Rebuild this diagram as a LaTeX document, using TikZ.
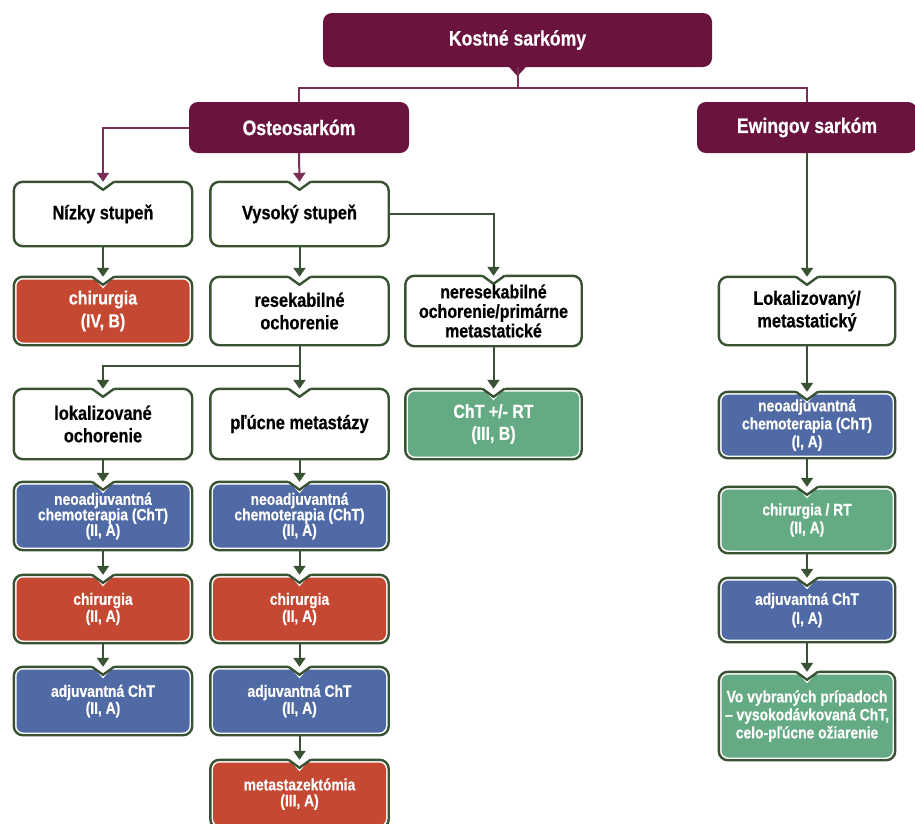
\documentclass[tikz,border=0pt]{standalone}
\usepackage{fontspec}
\setmainfont{Liberation Sans}[FakeStretch=0.84, BoldFeatures={FakeBold=0.5}]
\usetikzlibrary{arrows.meta,backgrounds,calc}
\definecolor{maroon}{HTML}{69133E}
\definecolor{mline}{HTML}{7A2E55}
\definecolor{bred}{HTML}{C44832}
\definecolor{bblue}{HTML}{506AA6}
\definecolor{bgreen}{HTML}{64AA82}
\definecolor{border}{HTML}{3A5234}
\newcommand{\nbox}[2]{%
  \filldraw[fill=white, draw=border, line width=2.4pt, rounded corners=9pt] (#1.north west) rectangle (#1.south east);
  \fill[#2, rounded corners=7pt] ([shift={(2.7,2.7)}]#1.north west) rectangle ([shift={(-2.7,-2.7)}]#1.south east);
  \fill[white] ([shift={(-13,-3)}]#1.north) -- ([shift={(0,11.5)}]#1.north) -- ([shift={(13,-3)}]#1.north) -- cycle;
  \draw[border, line width=2.4pt, line join=round] ([shift={(-11,0)}]#1.north) -- ([shift={(0,8)}]#1.north) -- ([shift={(11,0)}]#1.north);
}
\tikzset{
  wtxt/.style={inner sep=0pt, minimum width=178pt, align=center, text=black,
    font=\fontsize{19.5}{22.5}\selectfont\bfseries},
  ctxt/.style={inner sep=0pt, minimum width=178pt, align=center, text=white,
    font=\fontsize{16.5}{16.5}\selectfont\bfseries},
  hdr/.style={fill=maroon, rounded corners=9pt, text=white, inner sep=0pt,
    font=\fontsize{21}{24}\selectfont\bfseries},
  gline/.style={draw=border, line width=2pt},
  garrow/.style={draw=border, line width=2pt, -{Triangle[width=12pt,length=9pt]}},
  mlinest/.style={draw=mline, line width=2pt},
  marrow/.style={draw=mline, line width=2pt, -{Triangle[width=12pt,length=9pt]}},
}
\begin{document}
\begin{tikzpicture}[x=1pt,y=-1pt]
\useasboundingbox (0,0) rectangle (915,823);
% headers
\node[hdr, minimum width=389pt, minimum height=54pt] (ks) at (517.5,40) {Kostné sarkómy};
\node[hdr, minimum width=220pt, minimum height=51pt] (os) at (299,127.5) {Osteosarkóm};
\node[hdr, minimum width=220pt, minimum height=51pt] (ew) at (807,127.5) {Ewingov sarkóm};
% column 1
\node[wtxt, minimum height=64pt] (nizky) at (103,214) {Nízky stupeň};
\node[wtxt, minimum height=68pt, font=\fontsize{19}{23}\selectfont\bfseries, text=white] (chir1) at (103,311) {chirurgia\\(IV, B)};
\node[wtxt, minimum height=70pt] (lok) at (103,424) {lokalizované\\ochorenie};
\node[ctxt, minimum height=68pt, font=\fontsize{16.5}{15.5}\selectfont\bfseries] (neo1) at (103,516) {neoadjuvantná\\chemoterapia (ChT)\\(II, A)};
\node[ctxt, minimum height=68pt, font=\fontsize{16.5}{17}\selectfont\bfseries] (chir2) at (103,609) {chirurgia\\(II, A)};
\node[ctxt, minimum height=68pt, font=\fontsize{16.5}{17}\selectfont\bfseries] (adj1) at (103,701) {adjuvantná ChT\\(II, A)};
% column 2
\node[wtxt, minimum height=64pt] (vys) at (299.5,214) {Vysoký stupeň};
\node[wtxt, minimum height=68pt] (res) at (299.5,311) {resekabilné\\ochorenie};
\node[wtxt, minimum height=70pt] (pluc) at (299.5,424) {pľúcne metastázy};
\node[ctxt, minimum height=68pt, font=\fontsize{16.5}{15.5}\selectfont\bfseries] (neo2) at (299.5,516) {neoadjuvantná\\chemoterapia (ChT)\\(II, A)};
\node[ctxt, minimum height=68pt, font=\fontsize{16.5}{17}\selectfont\bfseries] (chir3) at (299.5,609) {chirurgia\\(II, A)};
\node[ctxt, minimum height=68pt, font=\fontsize{16.5}{17}\selectfont\bfseries] (adj2) at (299.5,701) {adjuvantná ChT\\(II, A)};
\node[ctxt, minimum height=68pt, font=\fontsize{16.5}{16}\selectfont\bfseries] (meta) at (299.5,794) {metastazektómia\\(III, A)};
% column 3
\node[wtxt, minimum width=176pt, minimum height=70pt, font=\fontsize{19}{19.5}\selectfont\bfseries] (neres) at (493.5,311) {neresekabilné\\ochorenie/primárne\\metastatické};
\node[wtxt, minimum width=176pt, minimum height=70pt, font=\fontsize{19}{22}\selectfont\bfseries, text=white] (chtrt) at (493.5,424) {ChT +/- RT\\(III, B)};
% column 4
\node[wtxt, minimum width=176pt, minimum height=68pt] (rlok) at (807,311) {Lokalizovaný/\\metastatický};
\node[ctxt, minimum width=176pt, minimum height=66pt, font=\fontsize{16.5}{18}\selectfont\bfseries] (rneo) at (807,425) {neoadjuvantná\\chemoterapia (ChT)\\(I, A)};
\node[ctxt, minimum width=176pt, minimum height=66pt, font=\fontsize{16.5}{18}\selectfont\bfseries] (rchir) at (807,520) {chirurgia / RT\\(II, A)};
\node[ctxt, minimum width=176pt, minimum height=64pt, font=\fontsize{16.5}{19}\selectfont\bfseries] (radj) at (807,610) {adjuvantná ChT\\(I, A)};
\node[ctxt, minimum width=176pt, minimum height=88pt, font=\fontsize{16.5}{18}\selectfont\bfseries] (rvo) at (807,716) {Vo vybraných prípadoch\\– vysokodávkovaná ChT,\\celo-pľúcne ožiarenie};
% box shapes
\begin{pgfonlayer}{background}
\nbox{nizky}{white}
\nbox{chir1}{bred}
\nbox{lok}{white}
\nbox{neo1}{bblue}
\nbox{chir2}{bred}
\nbox{adj1}{bblue}
\nbox{vys}{white}
\nbox{res}{white}
\nbox{pluc}{white}
\nbox{neo2}{bblue}
\nbox{chir3}{bred}
\nbox{adj2}{bblue}
\nbox{meta}{bred}
\nbox{neres}{white}
\nbox{chtrt}{bgreen}
\nbox{rlok}{white}
\nbox{rneo}{bblue}
\nbox{rchir}{bgreen}
\nbox{radj}{bblue}
\nbox{rvo}{bgreen}
\end{pgfonlayer}
% header connectors
\coordinate (kj) at (517.5,88);
\fill[maroon] ([shift={(-9,-1)}]ks.south) -- ([shift={(0,9)}]ks.south) -- ([shift={(9,-1)}]ks.south) -- cycle;
\draw[mlinest] (ks.south) -- (kj);
\draw[mlinest] (os.north) |- (kj) -| (ew.north);
\draw[marrow] (os.west) -| (nizky.north);
\draw[marrow] (os.south) -- (vys.north);
% osteosarkom branches
\draw[garrow] (nizky) -- (chir1.north);
\draw[garrow] (vys) -- (res.north);
\draw[garrow] (vys.east) -| (neres.north);
\draw[garrow] (neres) -- (chtrt.north);
\coordinate (rs) at (299.5,366);
\draw[gline] (res.south) -- (rs);
\draw[garrow] (rs) -| (lok.north);
\draw[garrow] (rs) -- (pluc.north);
\draw[garrow] (lok) -- (neo1.north);
\draw[garrow] (neo1) -- (chir2.north);
\draw[garrow] (chir2) -- (adj1.north);
\draw[garrow] (pluc) -- (neo2.north);
\draw[garrow] (neo2) -- (chir3.north);
\draw[garrow] (chir3) -- (adj2.north);
\draw[garrow] (adj2) -- (meta.north);
% ewing branch
\draw[garrow] (ew.south) -- (rlok.north);
\draw[garrow] (rlok) -- (rneo.north);
\draw[garrow] (rneo) -- (rchir.north);
\draw[garrow] (rchir) -- (radj.north);
\draw[garrow] (radj) -- (rvo.north);
\end{tikzpicture}
\end{document}
